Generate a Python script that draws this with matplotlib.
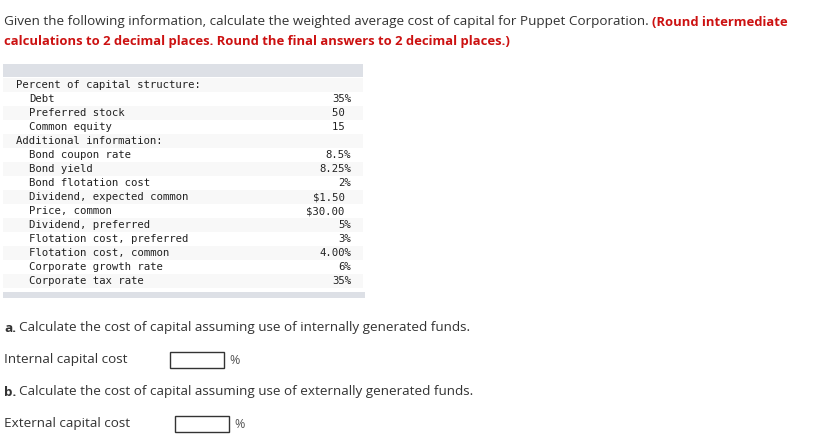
import matplotlib.pyplot as plt
from matplotlib.patches import Rectangle

# question text
intro = "Given the following information, calculate the weighted average cost of capital for Puppet Corporation. "
note_1 = "(Round intermediate"
note_2 = "calculations to 2 decimal places. Round the final answers to 2 decimal places.)"

# table rows
row_labels = ["Percent of capital structure:", "Debt", "Preferred stock", "Common equity",
              "Additional information:", "Bond coupon rate", "Bond yield", "Bond flotation cost",
              "Dividend, expected common", "Price, common", "Dividend, preferred",
              "Flotation cost, preferred", "Flotation cost, common", "Corporate growth rate",
              "Corporate tax rate"]
row_values = ["", "35%", "50 ", "15 ", "", "8.5%", "8.25%", "2%", "$1.50 ", "$30.00 ",
              "5%", "3%", "4.00%", "6%", "35%"]
row_header = [True, False, False, False, True] + [False] * 10

part_a = "Calculate the cost of capital assuming use of internally generated funds."
part_b = "Calculate the cost of capital assuming use of externally generated funds."
answer_labels = ["Internal capital cost", "External capital cost"]

body_font = "Open Sans"
mono_font = "DejaVu Sans Mono"
txt_col = "#333333"
red = "#cc1111"
fs = 9.7
fs_red = 9.4

fig = plt.figure(figsize=(8.35, 4.38), dpi=100)
ax = fig.add_axes([0, 0, 1, 1])
ax.set_xlim(0, 835)
ax.set_ylim(438, 0)
ax.axis("off")

# first line, black then red bold
t1 = ax.text(4, 22, intro, fontsize=fs, family=body_font, color=txt_col, va="center")
fig.canvas.draw()
r = fig.canvas.get_renderer()
bb = t1.get_window_extent(r).transformed(ax.transData.inverted())
ax.text(bb.x1, 22, note_1, fontsize=fs_red, family=body_font, color=red, weight="bold", va="center")
ax.text(4, 41, note_2, fontsize=fs_red, family=body_font, color=red, weight="bold", va="center")

# table
ax.add_patch(Rectangle((3, 64), 360, 13, color="#dde0e6", lw=0))
ax.add_patch(Rectangle((3, 292), 362, 6, color="#dde0e6", lw=0))
y0 = 85
for i, (lab, val, hdr) in enumerate(zip(row_labels, row_values, row_header)):
    y = y0 + 14 * i
    if i % 2 == 0:
        ax.add_patch(Rectangle((3, y - 7), 360, 14, color="#f8f8f8", lw=0))
    x = 16 if hdr else 29
    ax.text(x, y, lab, fontsize=7.65, family=mono_font, color="#222222", va="center")
    if val:
        ax.text(351, y, val, fontsize=7.65, family=mono_font, color="#222222", va="center", ha="right")

# parts a and b
for y, letter, body in [(328, "a.", part_a), (392, "b.", part_b)]:
    t = ax.text(4, y, letter, fontsize=fs, family=body_font, color=txt_col, weight="bold", va="center")
    fig.canvas.draw()
    bb = t.get_window_extent(r).transformed(ax.transData.inverted())
    ax.text(bb.x1 + 3, y, body, fontsize=fs, family=body_font, color=txt_col, va="center")

for (y, lab, bx) in [(360, answer_labels[0], 170), (424, answer_labels[1], 175)]:
    ax.text(4, y, lab, fontsize=fs, family=body_font, color=txt_col, va="center")
    ax.add_patch(Rectangle((bx, y - 8), 54, 16, fill=False, ec="#333333", lw=1))
    ax.text(bx + 59, y, "%", fontsize=9, family=body_font, color="#555555", va="center")

fig.savefig("out.png", dpi=100)
